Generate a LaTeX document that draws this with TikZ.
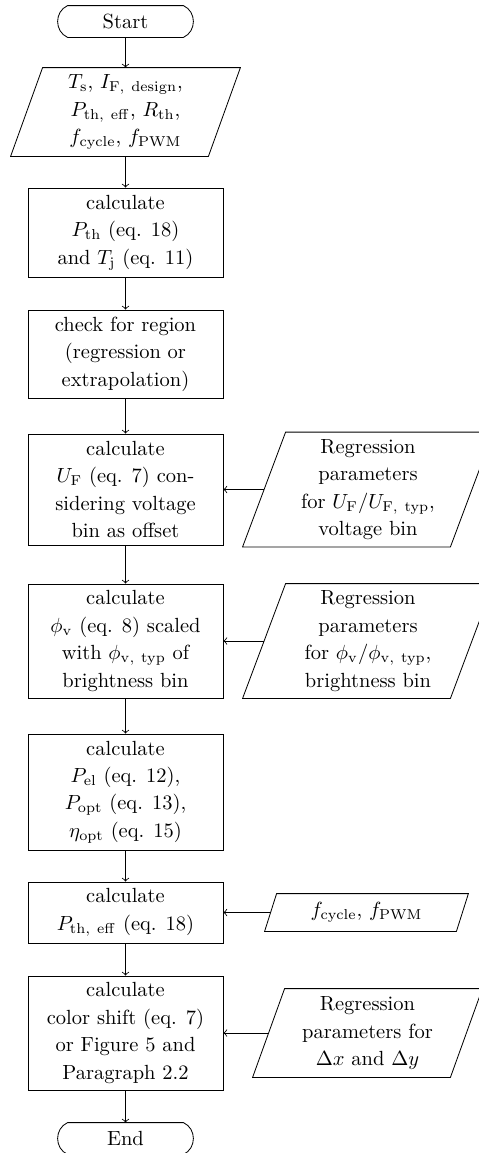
\documentclass[tikz,border=0pt]{standalone}
\newcommand\drawpara[2]{\draw ([xshift=#2*0.244pt]#1.north west) -- ([xshift=#2*0.244pt]#1.north east) -- ([xshift=-#2*0.244pt]#1.south east) -- ([xshift=-#2*0.244pt]#1.south west) -- cycle;}
\newcommand\drawterm[1]{\draw (#1.north west) -- (#1.north east) .. controls +(13.3,6) and +(13.3,-6) .. (#1.south east) -- (#1.south west) .. controls +(-13.3,-6) and +(-13.3,6) .. (#1.north west) -- cycle;}
\begin{document}
\begin{tikzpicture}[x=0.488pt,y=-0.488pt,
  every node/.style={font=\fontsize{10}{13.4}\selectfont, align=center, inner sep=0pt},
  procbox/.style={draw, rectangle, minimum width=195*0.488pt, minimum height=#1*0.488pt},
  databox/.style={rectangle, minimum width=#1*0.488pt},
  termbox/.style={rectangle, minimum width=115*0.488pt, minimum height=31*0.488pt},
  flow/.style={->, line width=0.4pt}]
\useasboundingbox (0,0) rectangle (478,1153);
\node[termbox] (start) at (125.5,21.5) {Start};
\drawterm{start}
\node[databox=197, minimum height=88*0.488pt] (in) at (125.5,112) {$T_\mathrm{s}$, $I_\mathrm{F,\ design}$,\\ $P_\mathrm{th,\ eff}$, $R_\mathrm{th}$,\\ $f_\mathrm{cycle}$, $f_\mathrm{PWM}$};
\drawpara{in}{32}
\node[procbox=89] (b1) at (125.5,232.5) {calculate\\ $P_\mathrm{th}$ (eq. 18)\\ and $T_\mathrm{j}$ (eq. 11)};
\node[procbox=88] (b2) at (125.5,354) {check for region\\ (regression or\\ extrapolation)};
\node[procbox=111] (b3) at (125.5,489.5) {calculate\\ $U_\mathrm{F}$ (eq. 7) con-\\ sidering voltage\\ bin as offset};
\node[procbox=114] (b4) at (125.5,641) {calculate\\ $\phi_\mathrm{v}$ (eq. 8) scaled\\ with $\phi_\mathrm{v,\ typ}$ of\\ brightness bin};
\node[procbox=116] (b5) at (125.5,792) {calculate\\ $P_\mathrm{el}$ (eq. 12),\\ $P_\mathrm{opt}$ (eq. 13),\\ $\eta_\mathrm{opt}$ (eq. 15)};
\node[procbox=61] (b6) at (125.5,912.5) {calculate\\ $P_\mathrm{th,\ eff}$ (eq. 18)};
\node[procbox=114] (b7) at (125.5,1033) {calculate\\ color shift (eq. 7)\\ or Figure 5 and\\ Paragraph 2.2};
\node[termbox] (end) at (125.5,1138.5) {End};
\drawterm{end}

\node[databox=207, minimum height=114*0.488pt] (p1) at (368,489.5) {Regression\\ parameters\\ for $U_\mathrm{F}/U_\mathrm{F,\ typ}$,\\ voltage bin};
\drawpara{p1}{43}
\node[databox=207, minimum height=114*0.488pt] (p2) at (368,641) {Regression\\ parameters\\ for $\phi_\mathrm{v}/\phi_\mathrm{v,\ typ}$,\\ brightness bin};
\drawpara{p2}{43}
\node[databox=191, minimum height=37*0.488pt] (p3) at (366.5,912.5) {$f_\mathrm{cycle}$, $f_\mathrm{PWM}$};
\drawpara{p3}{12}
\node[databox=197, minimum height=88*0.488pt] (p4) at (367.5,1033) {Regression\\ parameters for\\ $\Delta x$ and $\Delta y$};
\drawpara{p4}{32}

\draw[flow] (start) -- (in);
\draw[flow] (in) -- (b1);
\draw[flow] (b1) -- (b2);
\draw[flow] (b2) -- (b3);
\draw[flow] (b3) -- (b4);
\draw[flow] (b4) -- (b5);
\draw[flow] (b5) -- (b6);
\draw[flow] (b6) -- (b7);
\draw[flow] (b7) -- (end);
\draw[flow] (p1.west) -- (b3.east);
\draw[flow] (p2.west) -- (b4.east);
\draw[flow] (p3.west) -- (b6.east);
\draw[flow] (p4.west) -- (b7.east);
\end{tikzpicture}
\end{document}
